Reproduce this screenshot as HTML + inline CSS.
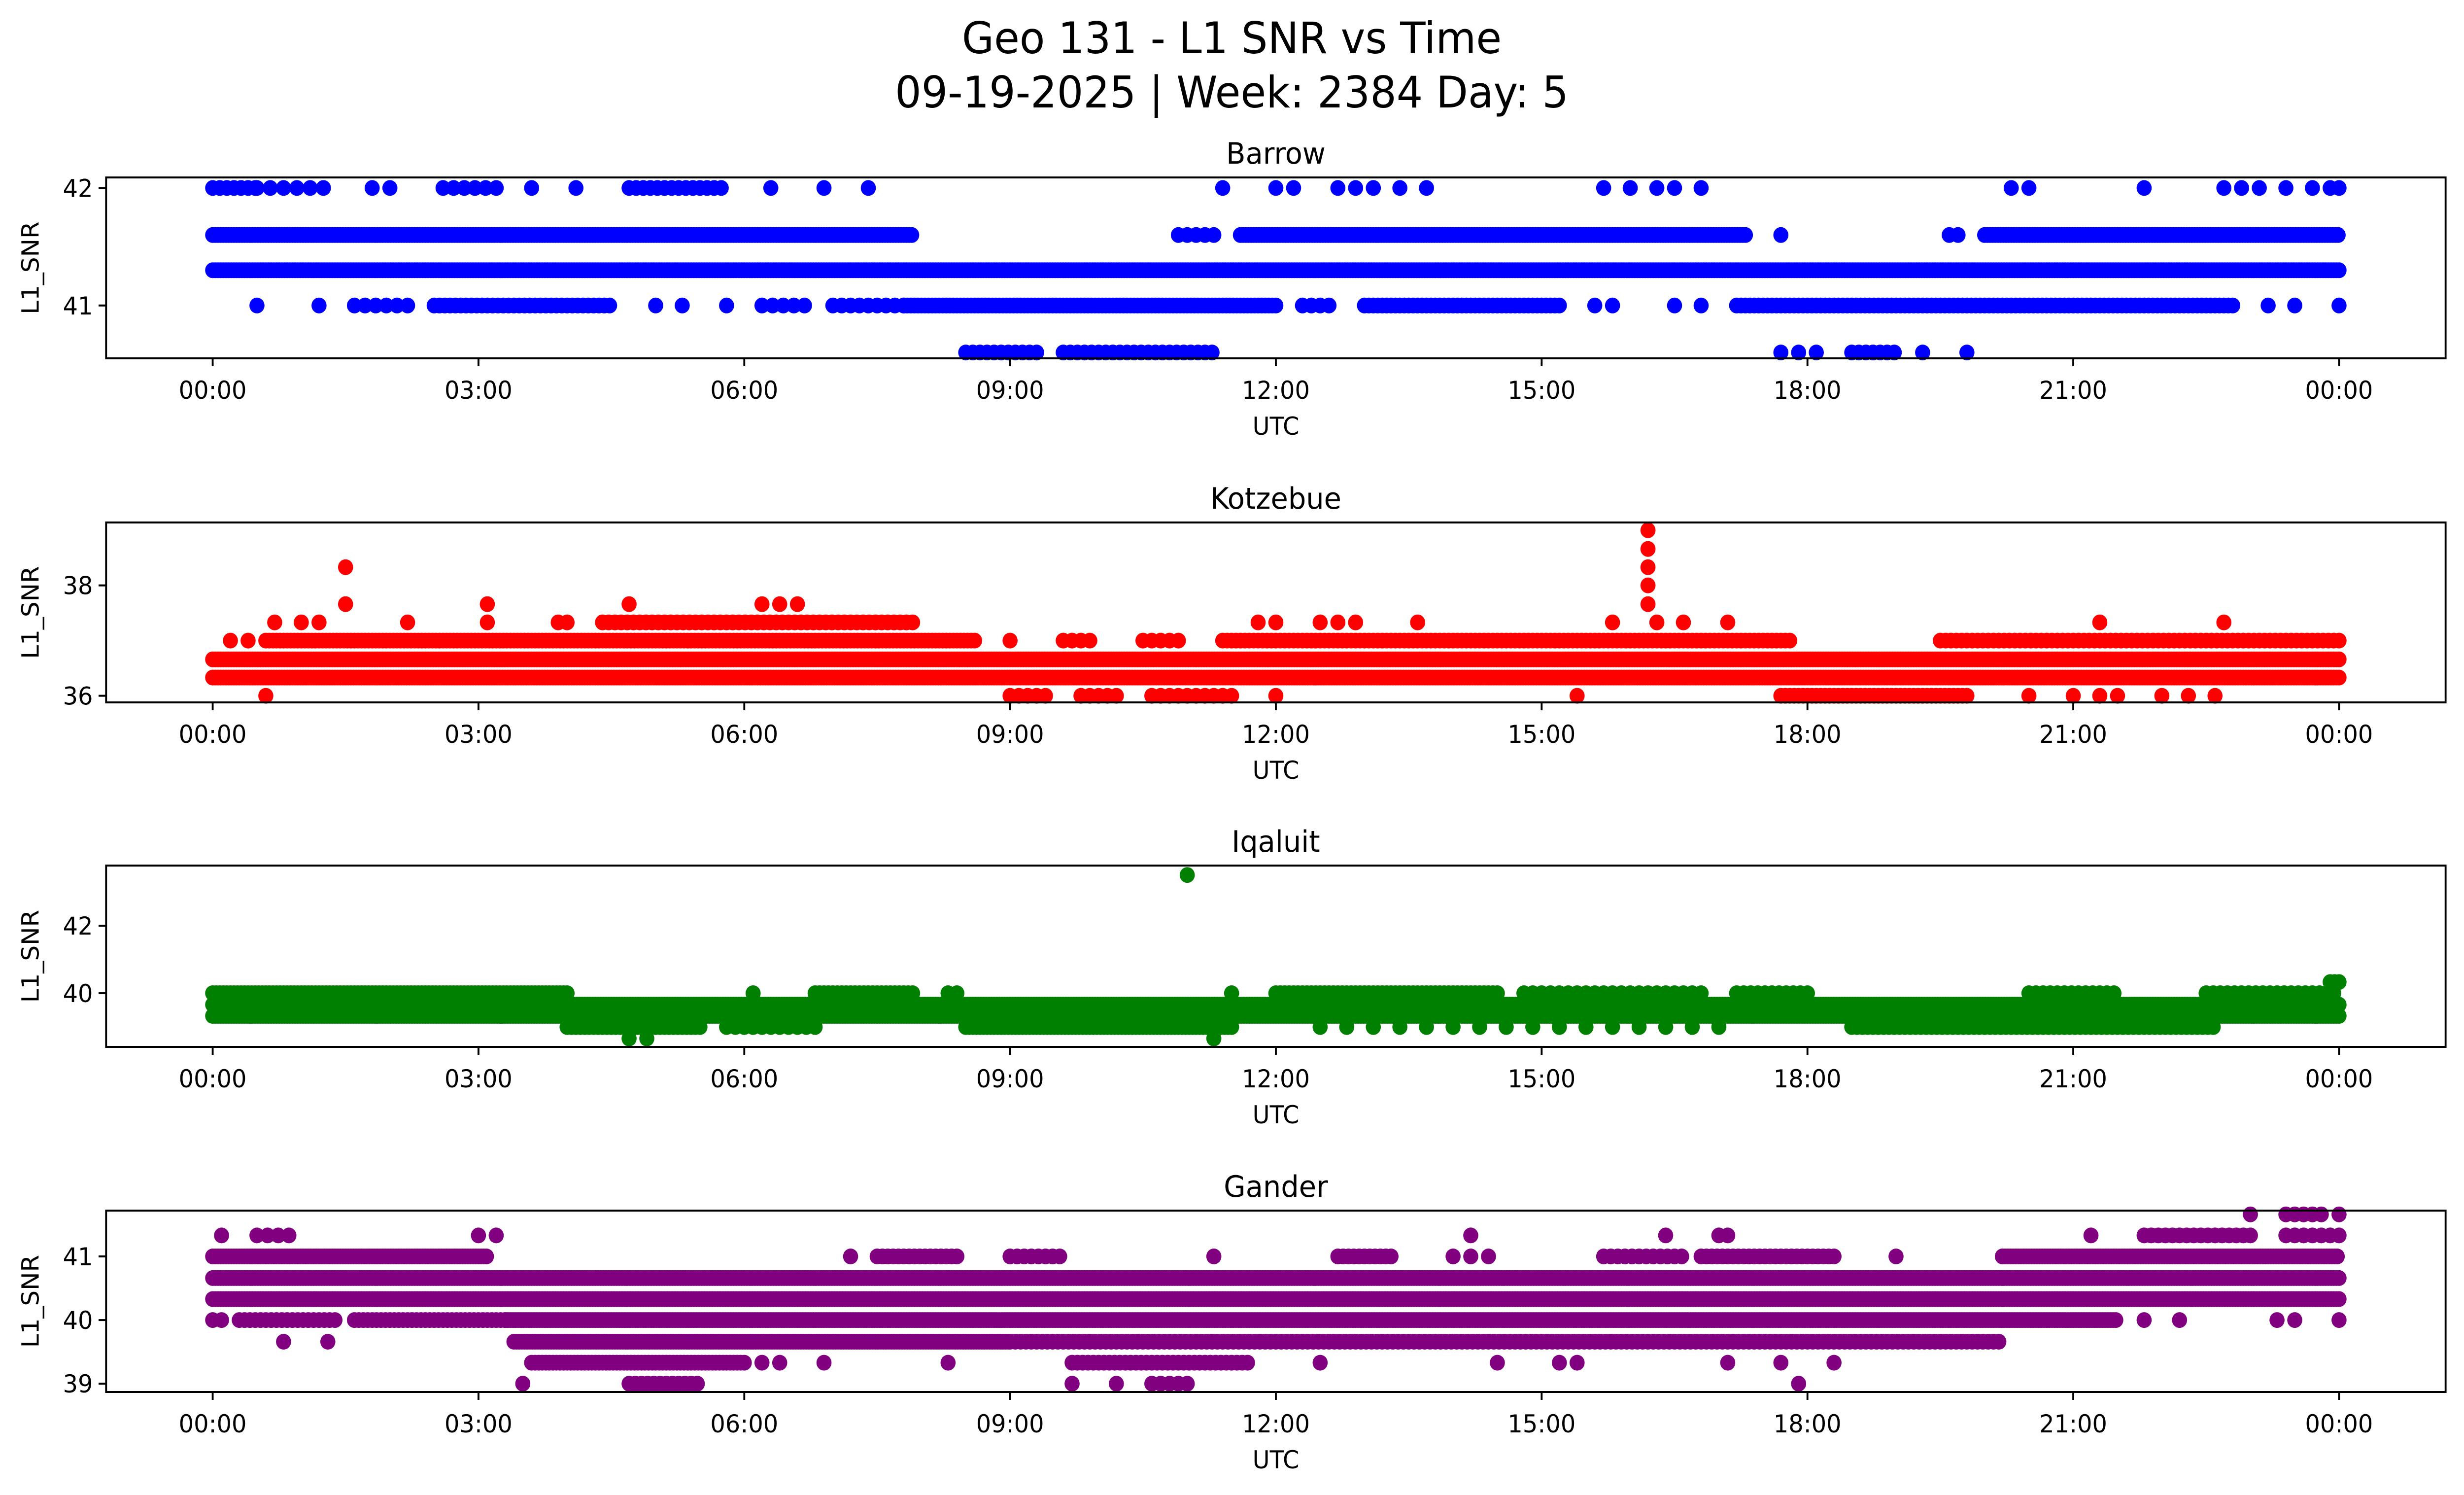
<!DOCTYPE html>
<html><head><meta charset="utf-8"><style>
html,body{margin:0;padding:0;background:#fff;width:100%;height:100%;overflow:hidden;}
svg{display:block;width:100vw;height:100vh;font-family:"DejaVu Sans","Liberation Sans",sans-serif;}
</style></head><body>
<svg id="fig" xmlns="http://www.w3.org/2000/svg" viewBox="0 0 5225 3033" preserveAspectRatio="none">
<rect width="5225" height="3033" fill="#fff"/>
<text x="2612" y="108" font-size="88" text-anchor="middle">Geo 131 - L1 SNR vs Time</text>
<text x="2612" y="218" font-size="88" text-anchor="middle">09-19-2025 | Week: 2384 Day: 5</text>
</svg>
<script>
// ---- Barrow data ----
const barrowBandLevels = [42,42,42,42,41.6,41.6,41.6,41.6,41.3,41,41,41,41,41,41,41,41,40.6,40.6,40.6];
const barrowBandStarts = [0,0.5,2.6,4.7,0,10.9,11.6,20.0,0,1.6,2.5,6.2,7.0,7.8,12.3,13.0,17.2,8.5,9.6,18.5];
const barrowBandEnds   = [0.5,1.3,3.3,5.8,7.9,11.3,17.3,24,24,2.3,4.5,6.7,7.8,12.0,12.6,15.2,22.8,9.3,11.3,19.0];
const barrowBandSteps  = [0.08,0.15,0.12,0.08,0.03,0.1,0.03,0.03,0.03,0.12,0.06,0.12,0.1,0.04,0.1,0.05,0.05,0.08,0.08,0.08];
const barrowPtTimes  = [1.8,2.0,3.6,4.1,6.3,6.9,7.4,11.4,12.0,12.2,12.7,12.9,13.1,13.4,13.7,15.7,16.0,16.3,16.5,16.8,20.3,20.5,21.8,22.7,22.9,23.1,23.4,23.7,23.9,24,17.7,19.6,19.7,0.5,1.2,5.0,5.3,5.8,15.6,15.8,16.5,16.8,23.2,23.5,24,17.7,17.9,18.1,19.3,19.8];
const barrowPtValues = [42,42,42,42,42,42,42,42,42,42,42,42,42,42,42,42,42,42,42,42,42,42,42,42,42,42,42,42,42,42,41.6,41.6,41.6,41,41,41,41,41,41,41,41,41,41,41,41,40.6,40.6,40.6,40.6,40.6];
// ---- Kotzebue data ----
const kotzBandLevels = [36.33,36.66,37,37,37,37,37,37.33,36,36,36,36];
const kotzBandStarts = [0,0,0.6,9.6,10.5,11.4,19.5,4.4,9.0,9.8,10.6,17.7];
const kotzBandEnds   = [24,24,8.6,9.9,10.9,17.8,24,7.9,9.4,10.2,11.5,19.8];
const kotzBandSteps  = [0.03,0.03,0.04,0.1,0.1,0.05,0.06,0.07,0.1,0.1,0.1,0.05];
const kotzPtTimes  = [0.2,0.4,9.0,0.7,1.0,1.2,2.2,3.1,3.9,4.0,11.8,12.0,12.5,12.7,12.9,13.6,15.8,16.3,16.6,17.1,21.3,22.7,1.5,3.1,4.7,6.2,6.4,6.6,1.5,0.6,12.0,15.4,20.5,21.0,21.3,21.5,22.0,22.3,22.6,16.2,16.2,16.2,16.2,16.2];
const kotzPtValues = [37,37,37,37.33,37.33,37.33,37.33,37.33,37.33,37.33,37.33,37.33,37.33,37.33,37.33,37.33,37.33,37.33,37.33,37.33,37.33,37.33,37.66,37.66,37.66,37.66,37.66,37.66,38.33,36,36,36,36,36,36,36,36,36,36,37.66,38,38.33,38.66,39];
// ---- Iqaluit data ----
const iqBandLevels = [39.66,39.33,40,40,40,40,40,40,40,39,39,39,39,39,40.33];
const iqBandStarts = [0,0,0,6.8,12.0,14.8,17.2,20.5,22.5,4.0,5.8,8.5,12.5,18.5,23.9];
const iqBandEnds   = [24,24,4.0,7.9,14.5,16.8,18.0,21.5,24,5.5,6.8,11.5,17.0,22.6,24];
const iqBandSteps  = [0.03,0.03,0.04,0.05,0.05,0.1,0.08,0.08,0.08,0.05,0.1,0.04,0.3,0.06,0.05];
const iqPtTimes  = [6.1,8.3,8.4,11.5,4.7,4.9,11.3,11.0];
const iqPtValues = [40,40,40,40,38.66,38.66,38.66,43.5];
// ---- Gander data ----
const ganBandLevels = [40.66,40.33,41,41,41,41,41,41,41,41.33,41.33,41.33,41.66,40,40,40,39.66,39.66,39.33,39.33,39,39];
const ganBandStarts = [0,0,0,7.5,9.0,12.7,15.7,16.8,20.2,0.5,21.8,23.4,23.4,0.3,1.6,3.3,3.4,9.0,3.6,9.7,4.7,10.6];
const ganBandEnds   = [24,24,3.1,8.4,9.6,13.3,16.6,18.3,24,0.9,23.0,24,23.8,1.4,3.3,21.5,9.0,20.2,6.0,11.7,5.5,11.0];
const ganBandSteps  = [0.03,0.03,0.03,0.06,0.08,0.06,0.08,0.06,0.03,0.12,0.08,0.1,0.1,0.06,0.05,0.03,0.03,0.06,0.04,0.06,0.07,0.1];
const ganPtTimes  = [7.2,11.3,14.0,14.2,14.4,19.0,0.1,3.0,3.2,14.2,16.4,17.0,17.1,21.2,23.0,24,0,0.1,21.8,22.2,23.3,23.5,24,0.8,1.3,6.2,6.4,6.9,8.3,12.5,14.5,15.2,15.4,17.1,17.7,18.3,3.5,9.7,10.2,17.9];
const ganPtValues = [41,41,41,41,41,41,41.33,41.33,41.33,41.33,41.33,41.33,41.33,41.33,41.66,41.66,40,40,40,40,40,40,40,39.66,39.66,39.33,39.33,39.33,39.33,39.33,39.33,39.33,39.33,39.33,39.33,39.33,39,39,39,39];
// tick labels
const xTickHours = [0,3,6,9,12,15,18,21,24];
const xTickLabels = ["00:00","03:00","06:00","09:00","12:00","15:00","18:00","21:00","00:00"];

const NS = "http://www.w3.org/2000/svg";
const svg = document.getElementById('fig');
function mk(tag, attrs, parent){const e=document.createElementNS(NS,tag);for(const k in attrs)e.setAttribute(k,attrs[k]);(parent||svg).appendChild(e);return e;}

const AX_L=225, AX_R=5186, X0=451, X24=4960;
function xs(h){return X0+(X24-X0)*h/24;}

const panels = [
 {name:'barrow',title:'Barrow',color:'#0000ff',top:360,bot:727,ymin:40.55,ymax:42.09,yt:[41,42],
  bl:barrowBandLevels,bs:barrowBandStarts,be:barrowBandEnds,bst:barrowBandSteps,pt:barrowPtTimes,pv:barrowPtValues},
 {name:'kotzebue',title:'Kotzebue',color:'#ff0000',top:1060,bot:1425,ymin:35.88,ymax:39.14,yt:[36,38],
  bl:kotzBandLevels,bs:kotzBandStarts,be:kotzBandEnds,bst:kotzBandSteps,pt:kotzPtTimes,pv:kotzPtValues},
 {name:'iqaluit',title:'Iqaluit',color:'#008000',top:1756,bot:2124,ymin:38.41,ymax:43.78,yt:[40,42],
  bl:iqBandLevels,bs:iqBandStarts,be:iqBandEnds,bst:iqBandSteps,pt:iqPtTimes,pv:iqPtValues},
 {name:'gander',title:'Gander',color:'#800080',top:2456,bot:2824,ymin:38.87,ymax:41.72,yt:[39,40,41],
  bl:ganBandLevels,bs:ganBandStarts,be:ganBandEnds,bst:ganBandSteps,pt:ganPtTimes,pv:ganPtValues}
];

panels.forEach(p=>{
  const g = mk('g',{});
  
  
  const ys = v => p.bot - (v-p.ymin)*(p.bot-p.top)/(p.ymax-p.ymin);
  const pts = mk('g',{fill:p.color},g);
  
  
  function dot(h,v){
    mk('circle',{cx:xs(h).toFixed(1),cy:ys(v).toFixed(1),r:16},pts);
  }
  for(let i=0;i<p.bl.length;i++){
    for(let h=p.bs[i]; h<=p.be[i]+1e-9; h+=p.bst[i]) dot(h,p.bl[i]);
  }
  for(let i=0;i<p.pt.length;i++) dot(p.pt[i],p.pv[i]);
  const fr = mk('rect',{x:AX_L,y:p.top,width:AX_R-AX_L,height:p.bot-p.top,fill:'none',stroke:'#000','stroke-width':4},g);
  
  
  xTickHours.forEach((h,i)=>{
    mk('line',{x1:xs(h),x2:xs(h),y1:p.bot,y2:p.bot+16,stroke:'#000','stroke-width':4},g);
    const t = mk('text',{x:xs(h),y:p.bot+82,'font-size':50,'text-anchor':'middle'},g);
    t.textContent = xTickLabels[i];
    
    
  });
  p.yt.forEach(v=>{
    mk('line',{x1:AX_L-16,x2:AX_L,y1:ys(v),y2:ys(v),stroke:'#000','stroke-width':4},g);
    const t = mk('text',{x:AX_L-28,y:ys(v)+18,'font-size':50,'text-anchor':'end'},g);
    t.textContent = String(v);
    
    
  });
  const xl = mk('text',{x:(AX_L+AX_R)/2,y:p.bot+155,'font-size':50,'text-anchor':'middle'},g);
  xl.textContent='UTC';
  
  
  const cy=(p.top+p.bot)/2;
  const yl = mk('text',{x:82,y:cy,'font-size':50,'text-anchor':'middle',transform:`rotate(-90 82 ${cy})`},g);
  yl.textContent='L1_SNR';
  
  
  const tt = mk('text',{x:(AX_L+AX_R)/2,y:p.top-28,'font-size':60,'text-anchor':'middle'},g);
  tt.textContent=p.title;
  
  
});
</script>
</body></html>
